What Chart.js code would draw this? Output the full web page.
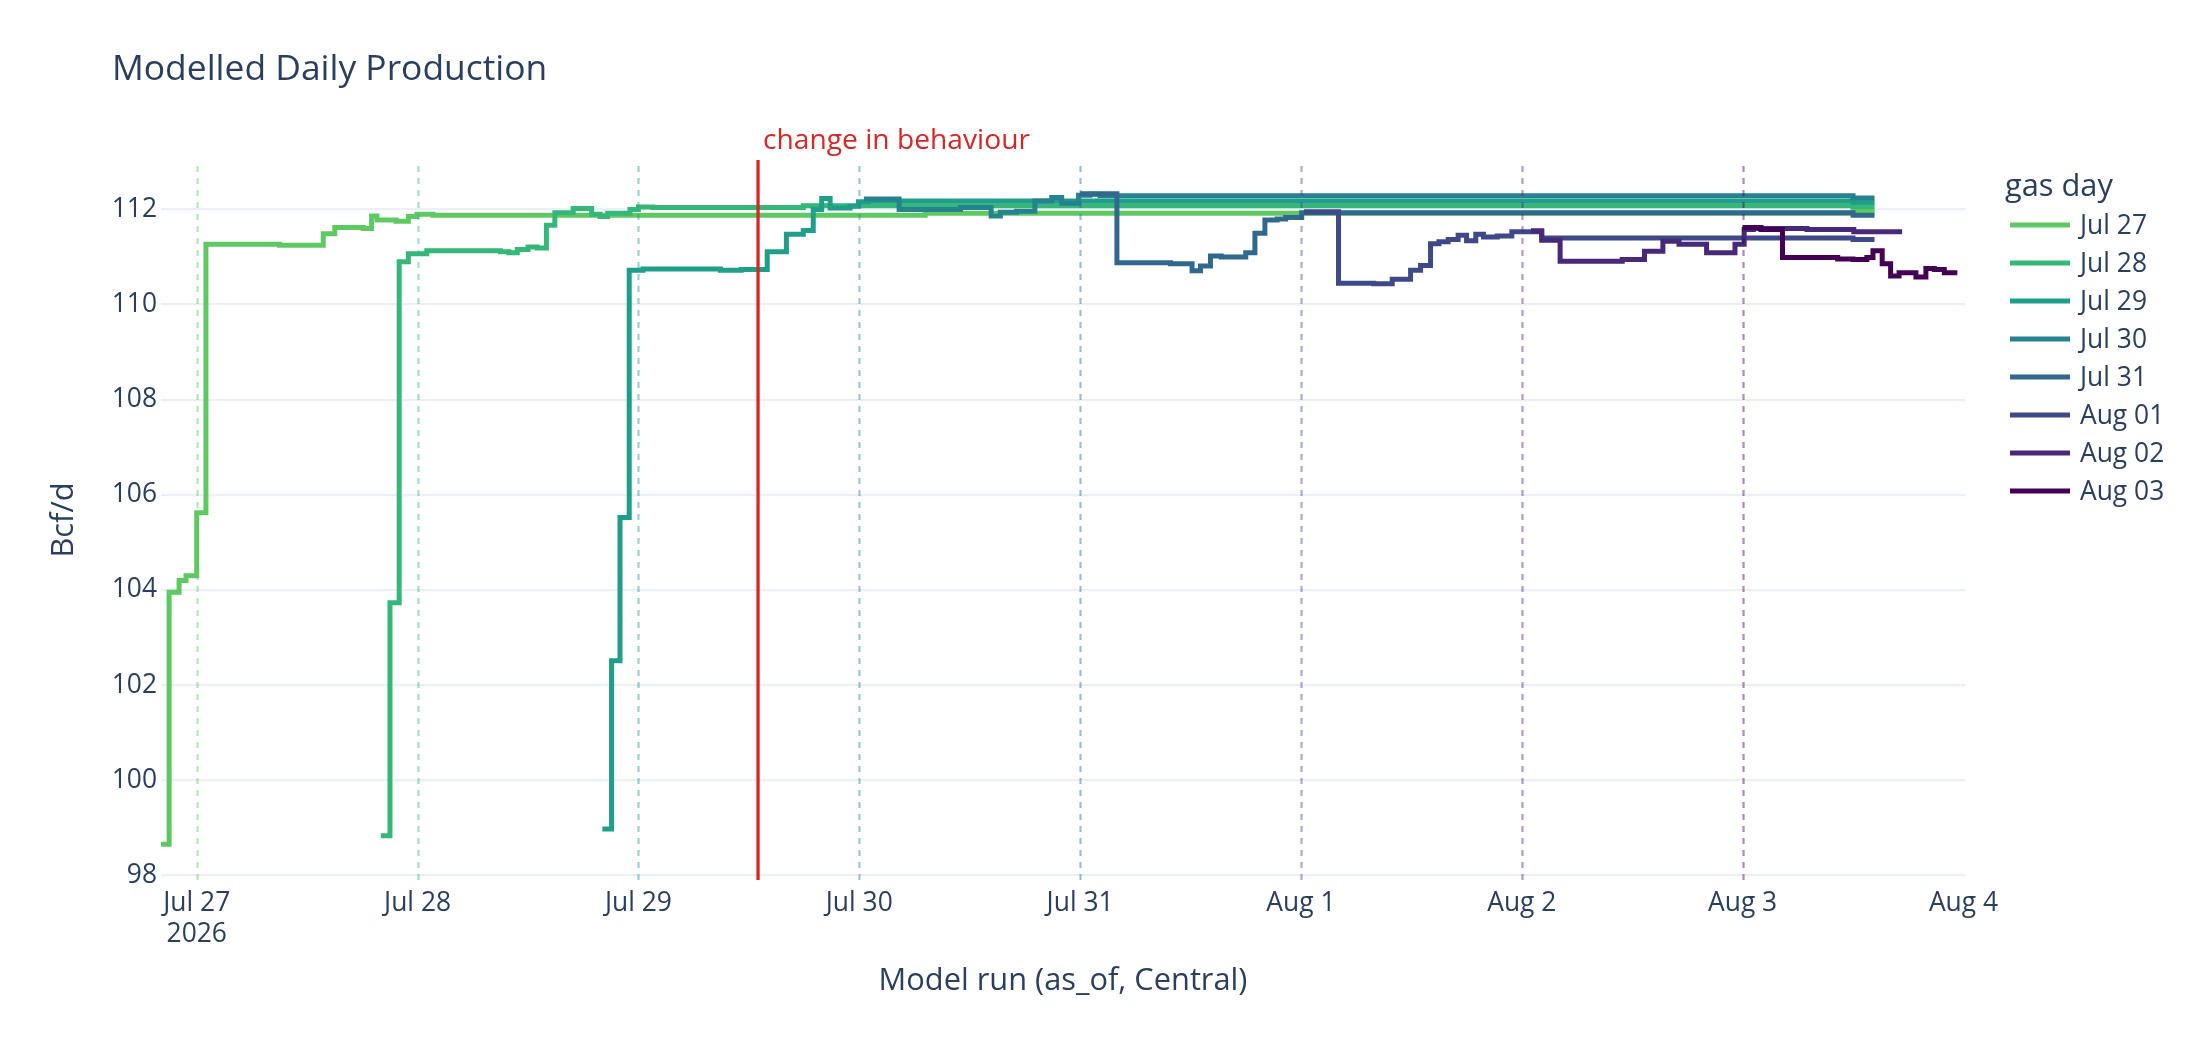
<!DOCTYPE html>
<html>
<head>
<meta charset="utf-8">
<script src="https://cdn.jsdelivr.net/npm/chart.js@4.4.1/dist/chart.umd.min.js"></script>
<style>
html,body{margin:0;padding:0;background:#fff;overflow:hidden}
#wrap{width:2200px;height:1040px;position:relative}
</style>
</head>
<body>
<div id="wrap"><canvas id="c" width="2200" height="1040"></canvas></div>
<script>
// ---------- DATA ----------
const seriesNames = ['Jul 27','Jul 28','Jul 29','Jul 30','Jul 31','Aug 01','Aug 02','Aug 03'];
const seriesColors = ['#5ec962','#35b779','#1f9e89','#26828e','#31688e','#3e4989','#482878','#440154'];

const jul27Times = ['07-26 20:05','07-26 21:00','07-26 22:05','07-26 22:50','07-27 00:00','07-27 01:00','07-27 09:00','07-27 13:45','07-27 15:00','07-27 18:05','07-27 19:00','07-27 19:35','07-27 21:40','07-27 23:00','07-27 23:55','07-28 01:40','07-30 07:10','08-03 12:00','08-03 14:20'];
const jul27Values = [98.65,103.95,104.2,104.3,105.62,111.27,111.25,111.49,111.62,111.6,111.86,111.78,111.75,111.85,111.9,111.88,111.92,111.98,111.98];

const jul28Times = ['07-27 20:00','07-27 21:00','07-27 22:00','07-27 23:00','07-28 01:00','07-28 09:00','07-28 09:55','07-28 10:50','07-28 12:00','07-28 13:00','07-28 14:00','07-28 14:55','07-28 16:55','07-28 18:55','07-28 19:50','07-28 20:40','07-28 23:05','07-29 00:00','07-29 01:35','07-29 17:55','08-03 12:00','08-03 14:20'];
const jul28Values = [98.83,103.73,110.9,111.07,111.13,111.11,111.09,111.16,111.21,111.19,111.67,111.93,112.02,111.9,111.85,111.92,112.0,112.05,112.04,112.08,112.06,112.06];

const jul29Times = ['07-28 20:05','07-28 21:05','07-28 22:00','07-28 23:00','07-29 00:30','07-29 08:55','07-29 11:10','07-29 14:00','07-29 16:05','07-29 17:55','07-29 19:00','07-29 19:55','07-29 20:50','07-29 23:00','07-29 23:55','07-30 01:00','08-03 12:00','08-03 14:20'];
const jul29Values = [98.97,102.51,105.52,110.72,110.75,110.72,110.74,111.11,111.48,111.56,112.0,112.23,112.03,112.07,112.16,112.18,112.15,112.15];

const jul30Times = ['07-30 00:30','07-30 04:20','07-30 11:00','07-30 14:20','07-30 15:20','07-30 17:05','07-30 19:05','07-30 20:55','07-30 22:00','07-30 23:50','07-31 01:05','07-31 02:10','08-03 12:00','08-03 14:20'];
const jul30Values = [112.22,112.0,112.04,111.86,111.94,111.96,112.18,112.25,112.13,112.3,112.32,112.29,112.24,112.24];

const jul31Times = ['07-31 00:00','07-31 04:00','07-31 09:50','07-31 12:10','07-31 13:05','07-31 14:10','07-31 15:20','07-31 18:00','07-31 19:00','07-31 20:05','07-31 21:25','07-31 22:20','08-01 00:05','08-03 12:00','08-03 14:20'];
const jul31Values = [112.33,110.88,110.86,110.71,110.81,111.02,111.0,111.09,111.5,111.78,111.8,111.83,111.93,111.88,111.88];

const aug01Times = ['08-01 00:20','08-01 04:05','08-01 07:55','08-01 09:55','08-01 11:55','08-01 13:00','08-01 14:05','08-01 15:00','08-01 16:00','08-01 17:05','08-01 18:00','08-01 19:00','08-01 19:50','08-01 21:20','08-01 22:55','08-02 02:10','08-03 12:00','08-03 14:20'];
const aug01Values = [111.95,110.45,110.44,110.53,110.72,110.82,111.28,111.32,111.37,111.46,111.34,111.48,111.42,111.44,111.53,111.4,111.37,111.37];

const aug02Times = ['08-02 01:00','08-02 02:10','08-02 04:10','08-02 10:55','08-02 13:20','08-02 15:20','08-02 17:05','08-02 20:05','08-02 23:10','08-03 00:10','08-03 01:10','08-03 07:00','08-03 12:05','08-03 17:20'];
const aug02Values = [111.55,111.35,110.91,110.95,111.12,111.33,111.27,111.09,111.27,111.58,111.6,111.58,111.53,111.53];

const aug03Times = ['08-03 00:00','08-03 02:00','08-03 04:20','08-03 10:20','08-03 12:00','08-03 13:30','08-03 14:10','08-03 15:10','08-03 16:05','08-03 17:00','08-03 18:50','08-03 19:55','08-03 20:50','08-03 21:55','08-03 23:20'];
const aug03Values = [111.62,111.58,110.99,110.96,110.95,110.99,111.13,110.86,110.6,110.67,110.58,110.76,110.74,110.67,110.67];

const xTickLabels = ['Jul 27','Jul 28','Jul 29','Jul 30','Jul 31','Aug 1','Aug 2','Aug 3','Aug 4'];
const xTickTimes = ['07-27 00:00','07-28 00:00','07-29 00:00','07-30 00:00','07-31 00:00','08-01 00:00','08-02 00:00','08-03 00:00','08-04 00:00'];
const yTickValues = [98,100,102,104,106,108,110,112];
const gasDayLineTimes = ['07-27 00:00','07-28 00:00','07-29 00:00','07-30 00:00','07-31 00:00','08-01 00:00','08-02 00:00','08-03 00:00'];
const changeTime = '07-29 13:00';
const changeLabel = 'change in behaviour';
const xRange = ['07-26 20:07','08-04 00:10'];
const yRange = [97.9, 113.04];

// ---------- HELPERS ----------
function toH(s){
  const [md, hm] = s.split(' ');
  const [mo, d] = md.split('-').map(Number);
  const [hh, mm] = hm.split(':').map(Number);
  const dayOff = mo === 7 ? d - 27 : d + 4;
  return dayOff * 24 + hh + mm / 60;
}
function hexA(hex, a){
  const n = parseInt(hex.slice(1), 16);
  return `rgba(${(n>>16)&255},${(n>>8)&255},${n&255},${a})`;
}
const allTimes = [jul27Times,jul28Times,jul29Times,jul30Times,jul31Times,aug01Times,aug02Times,aug03Times];
const allValues = [jul27Values,jul28Values,jul29Values,jul30Values,jul31Values,aug01Values,aug02Values,aug03Values];

const FONT = '"Open Sans", "Noto Sans", "DejaVu Sans", sans-serif';
const TXT = '#2a3f5f';

const datasets = seriesNames.map((name, i) => ({
  label: name,
  data: allTimes[i].map((t, k) => ({x: toH(t), y: allValues[i][k]})),
  borderColor: seriesColors[i],
  backgroundColor: seriesColors[i],
  borderWidth: 5,
  stepped: 'before',
  pointRadius: 0,
  fill: false,
  tension: 0,
  borderJoinStyle: 'miter',
  borderCapStyle: 'butt',
  order: seriesNames.length - 1 - i
}));

const overlay = {
  id: 'overlay',
  afterDatasetsDraw(chart){
    const {ctx, chartArea: a, scales: {x}} = chart;
    ctx.save();
    // dotted gas-day lines
    ctx.lineWidth = 2.2;
    ctx.setLineDash([6, 6]);
    gasDayLineTimes.forEach((t, i) => {
      const px = Math.round(x.getPixelForValue(toH(t))) + 0.5;
      ctx.strokeStyle = hexA(seriesColors[i], 0.45);
      ctx.beginPath();
      ctx.moveTo(px, a.top + 6);
      ctx.lineTo(px, a.bottom);
      ctx.stroke();
    });
    // change line
    ctx.setLineDash([]);
    const cx = x.getPixelForValue(toH(changeTime));
    ctx.strokeStyle = '#d62728';
    ctx.lineWidth = 3.3;
    ctx.beginPath();
    ctx.moveTo(cx, a.top);
    ctx.lineTo(cx, a.bottom);
    ctx.stroke();
    ctx.fillStyle = '#d62728';
    ctx.font = `28.2px ${FONT}`;
    ctx.textAlign = 'left';
    ctx.textBaseline = 'alphabetic';
    ctx.fillText(changeLabel, cx + 5, a.top - 11);
    ctx.restore();
  },
  afterDraw(chart){
    const {ctx, chartArea: a} = chart;
    ctx.save();
    ctx.fillStyle = TXT;
    // title
    ctx.font = `35.4px ${FONT}`;
    ctx.textAlign = 'left';
    ctx.textBaseline = 'alphabetic';
    ctx.fillText('Modelled Daily Production', 112, 80);
    // x title
    ctx.font = `30.8px ${FONT}`;
    ctx.textAlign = 'center';
    ctx.fillText('Model run (as_of, Central)', (a.left + a.right) / 2, 990);
    // y title
    ctx.save();
    ctx.translate(64, (a.top + a.bottom) / 2);
    ctx.rotate(-Math.PI / 2);
    ctx.textBaseline = 'middle';
    ctx.fillText('Bcf/d', 0, 0);
    ctx.restore();
    // legend
    ctx.textAlign = 'left';
    ctx.textBaseline = 'alphabetic';
    ctx.font = `30.8px ${FONT}`;
    ctx.fillText('gas day', 2005, 196);
    ctx.font = `26.4px ${FONT}`;
    ctx.textBaseline = 'middle';
    seriesNames.forEach((name, i) => {
      const yy = 225 + 38 * i;
      ctx.strokeStyle = seriesColors[i];
      ctx.lineWidth = 5;
      ctx.beginPath();
      ctx.moveTo(2010, yy);
      ctx.lineTo(2070, yy);
      ctx.stroke();
      ctx.fillStyle = TXT;
      ctx.fillText(name, 2080, yy + 1);
    });
    ctx.restore();
  }
};

new Chart(document.getElementById('c'), {
  type: 'line',
  data: { datasets },
  options: {
    responsive: false,
    devicePixelRatio: 1,
    animation: false,
    layout: { padding: { left: 0, right: 235, top: 160, bottom: 0 } },
    plugins: { legend: { display: false }, title: { display: false }, tooltip: { enabled: false } },
    scales: {
      x: {
        type: 'linear',
        min: toH(xRange[0]),
        max: toH(xRange[1]),
        afterBuildTicks(s){ s.ticks = xTickTimes.map(t => ({value: toH(t)})); },
        afterFit(s){ s.height = 160; },
        grid: { display: false },
        border: { display: false },
        ticks: {
          autoSkip: false,
          maxRotation: 0,
          padding: 0,
          color: TXT,
          font: { family: FONT, size: 26.4, lineHeight: 1.17 },
          callback(v, idx){
            const k = xTickTimes.findIndex(t => Math.abs(toH(t) - v) < 1e-6);
            const lab = k >= 0 ? xTickLabels[k] : '';
            return k === 0 ? [lab, '2026'] : lab;
          }
        }
      },
      y: {
        min: yRange[0],
        max: yRange[1],
        afterBuildTicks(s){ s.ticks = yTickValues.map(v => ({value: v})); },
        afterFit(s){ s.width = 161; },
        grid: { color: '#ebf0f8', lineWidth: 2.2, drawTicks: false },
        border: { display: false },
        ticks: {
          padding: 4,
          color: TXT,
          font: { family: FONT, size: 26.4 },
          callback(v){ return String(v); }
        }
      }
    }
  },
  plugins: [overlay]
});
</script>
</body>
</html>
